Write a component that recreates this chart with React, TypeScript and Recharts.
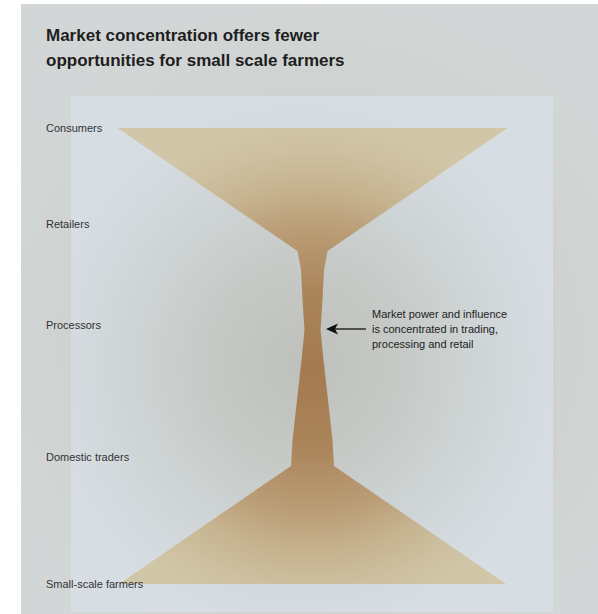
import { Area, ComposedChart, XAxis, YAxis } from "recharts";

// supply chain stages, top to bottom (0 = consumers, 100 = farmers)
const stages = ["Consumers", "Retailers", "Processors", "Domestic traders", "Small-scale farmers"];
const stageLevels = [0, 21.1, 43.2, 72.1, 100];

// outline of the hourglass: level and half width (market reach)
const shapeLevels = [0, 27, 31.1, 37.7, 44.3, 50.9, 68.4, 74.1, 100];
const shapeHalfWidths = [195, 15, 11.5, 10, 8, 11, 20, 21.5, 193.5];

const title = ["Market concentration offers fewer", "opportunities for small scale farmers"];
const note = ["Market power and influence", "is concentrated in trading,", "processing and retail"];

const FONT = "'Liberation Sans', Arial, Helvetica, sans-serif";

const data = shapeLevels.map((level, i) => ({
  level,
  range: [-shapeHalfWidths[i], shapeHalfWidths[i]],
}));

const StageTick = (props: any) => {
  const { y, payload } = props;
  const idx = stageLevels.indexOf(payload.value);
  return (
    <text x={46} y={y} dy={4} fontSize={11} fill="#333" fontFamily={FONT} textAnchor="start">
      {stages[idx]}
    </text>
  );
};

export default function App() {
  return (
    <div style={{ position: "absolute", left: 0, top: 0, width: 598, height: 614, background: "#fff", overflow: "hidden" }}>
      <div
        style={{
          position: "absolute",
          left: 21,
          top: 4,
          width: 577,
          height: 610,
          background: "radial-gradient(ellipse 60% 55% at 52% 55%, #c0c3bf 0%, #cbcfcd 50%, #d3d6d6 100%)",
        }}
      />
      <div
        style={{
          position: "absolute",
          left: 71,
          top: 96,
          width: 482,
          height: 516,
          background: "radial-gradient(ellipse 60% 58% at 48% 52%, #bdc0bb 0%, #c5c8c4 30%, #d0d6d8 65%, #d7dee3 90%)",
        }}
      />
      <div
        style={{
          position: "absolute",
          left: 46,
          top: 23,
          fontFamily: FONT,
          fontWeight: "bold",
          fontSize: 17,
          lineHeight: "25px",
          color: "#1e1e1e",
          whiteSpace: "nowrap",
        }}
      >
        {title.map((t) => (
          <div key={t}>{t}</div>
        ))}
      </div>
      <div style={{ position: "absolute", left: 0, top: 0 }}>
        <ComposedChart
          width={598}
          height={614}
          data={data}
          layout="vertical"
          margin={{ top: 128, right: 85.5, bottom: 30, left: 12.5 }}
        >
          <defs>
            <radialGradient id="tan" gradientUnits="userSpaceOnUse" cx={312} cy={370} r={250}>
              <stop offset="0%" stopColor="#a47a4f" />
              <stop offset="30%" stopColor="#aa845a" />
              <stop offset="55%" stopColor="#b99b74" />
              <stop offset="75%" stopColor="#c7b591" />
              <stop offset="90%" stopColor="#cec1a2" />
              <stop offset="100%" stopColor="#d1c6a8" />
            </radialGradient>
          </defs>
          <XAxis type="number" domain={[-200, 200]} hide allowDataOverflow />
          <YAxis
            type="number"
            dataKey="level"
            domain={[0, 100]}
            ticks={stageLevels}
            interval={0}
            width={100}
            axisLine={false}
            tickLine={false}
            tick={StageTick}
            allowDataOverflow
          />
          <Area
            type="linear"
            dataKey="range"
            stroke="none"
            fill="url(#tan)"
            fillOpacity={1}
            isAnimationActive={false}
            dot={false}
            activeDot={false}
          />
        </ComposedChart>
      </div>
      <svg style={{ position: "absolute", left: 0, top: 0 }} width={598} height={614}>
        <line x1={334} y1={329} x2={366} y2={329} stroke="#111" strokeWidth={1.3} />
        <path d="M326,329 L338,323.5 L335,329 L338,334.5 Z" fill="#111" />
        {note.map((t, i) => (
          <text key={t} x={372} y={318 + i * 15} fontSize={11} fill="#222" fontFamily={FONT}>
            {t}
          </text>
        ))}
      </svg>
    </div>
  );
}
